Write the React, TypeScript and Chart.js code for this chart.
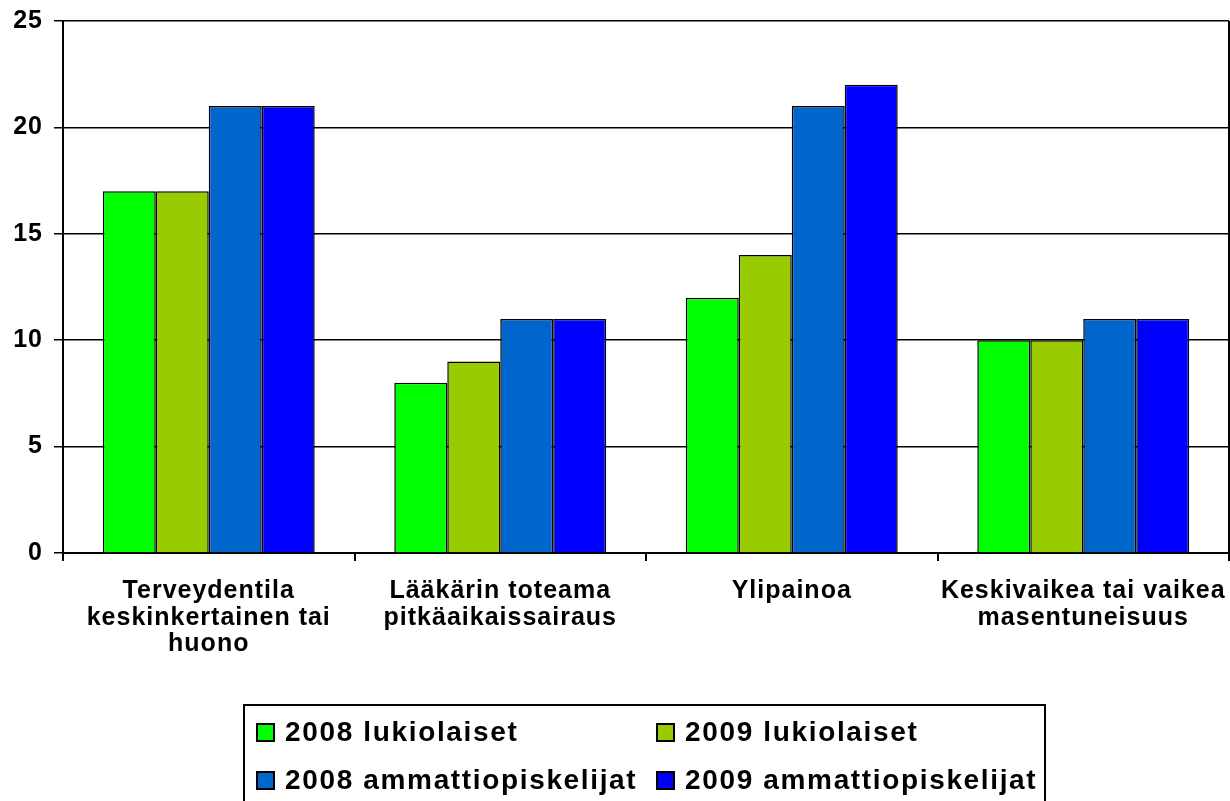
import React, { useEffect, useRef } from "react";
import { Chart, registerables } from "chart.js";

Chart.register(...registerables);

const categories: string[][] = [
  ["Terveydentila", "keskinkertainen tai", "huono"],
  ["Lääkärin toteama", "pitkäaikaissairaus"],
  ["Ylipainoa"],
  ["Keskivaikea tai vaikea", "masentuneisuus"],
];

const seriesNames: string[] = [
  "2008 lukiolaiset",
  "2009 lukiolaiset",
  "2008 ammattiopiskelijat",
  "2009 ammattiopiskelijat",
];

const lukio2008: number[] = [17, 8, 12, 10];
const lukio2009: number[] = [17, 9, 14, 10];
const ammatti2008: number[] = [21, 11, 21, 11];
const ammatti2009: number[] = [21, 11, 22, 11];

const seriesColors: string[] = ["#00FF00", "#99CC00", "#0066CC", "#0000FF"];

const yTicks: number[] = [0, 5, 10, 15, 20, 25];

const FONT = "'Liberation Sans', Arial, sans-serif";

const spacingPlugin = {
  id: "spacing",
  beforeLayout(chart: any) {
    chart.ctx.letterSpacing = "1px";
  },
  beforeDraw(chart: any) {
    chart.ctx.letterSpacing = "1px";
  },
};

const rightBorder = {
  id: "rightBorder",
  afterDraw(chart: any) {
    const { ctx, chartArea } = chart;
    ctx.save();
    ctx.strokeStyle = "#000";
    ctx.lineWidth = 2;
    ctx.beginPath();
    ctx.moveTo(chartArea.right, chartArea.top);
    ctx.lineTo(chartArea.right, chartArea.bottom);
    ctx.stroke();
    ctx.restore();
  },
};

export default function App() {
  const ref = useRef<HTMLCanvasElement | null>(null);

  useEffect(() => {
    if (!ref.current) return;
    const values = [lukio2008, lukio2009, ammatti2008, ammatti2009];
    const chart = new Chart(ref.current, {
      type: "bar",
      data: {
        labels: categories,
        datasets: values.map((v, i) => ({
          label: seriesNames[i],
          data: v,
          backgroundColor: seriesColors[i],
          borderColor: "#000",
          borderWidth: 1.5,
          categoryPercentage: 0.727,
          barPercentage: 1,
        })),
      },
      options: {
        animation: false,
        responsive: false,
        maintainAspectRatio: false,
        layout: { padding: { top: 21, right: 1, left: 0, bottom: 0 } },
        plugins: {
          legend: { display: false },
          tooltip: { enabled: false },
        },
        scales: {
          x: {
            afterFit(scale: any) {
              scale.height = 801 - 21 - 532;
              scale.paddingLeft = 0;
              scale.paddingRight = 0;
            },
            grid: {
              offset: true,
              drawOnChartArea: false,
              drawTicks: true,
              tickLength: 8,
              color: "#000",
              lineWidth: 2,
            },
            border: { display: true, color: "#000", width: 2 },
            ticks: {
              font: { family: FONT, size: 25, weight: "bold", lineHeight: 1.06 },
              color: "#000",
              maxRotation: 0,
              minRotation: 0,
              autoSkip: false,
              padding: 17,
            },
          },
          y: {
            min: 0,
            max: 25,
            afterFit(scale: any) {
              scale.width = 63;
              scale.paddingTop = 0;
              scale.paddingBottom = 0;
            },
            afterBuildTicks(scale: any) {
              scale.ticks = yTicks.map((v) => ({ value: v }));
            },
            grid: {
              color: "#000",
              lineWidth: 1.5,
              drawTicks: true,
              tickLength: 9,
            },
            border: { display: true, color: "#000", width: 2 },
            ticks: {
              font: { family: FONT, size: 25, weight: "bold" },
              color: "#000",
              padding: 11,
            },
          },
        },
      },
      plugins: [spacingPlugin, rightBorder],
    });
    return () => chart.destroy();
  }, []);

  const legendItem = (i: number) => (
    <div
      key={i}
      style={{
        display: "flex",
        alignItems: "center",
        height: 48,
        whiteSpace: "nowrap",
      }}
    >
      <span
        style={{
          display: "inline-block",
          width: 19,
          height: 19,
          background: seriesColors[i],
          border: "2px solid #000",
          marginRight: 10,
          boxSizing: "border-box",
          flex: "0 0 auto",
        }}
      />
      <span>{seriesNames[i]}</span>
    </div>
  );

  return (
    <div
      style={{
        position: "fixed",
        left: 0,
        top: 0,
        width: 1230,
        height: 801,
        overflow: "hidden",
        background: "#fff",
      }}
    >
      <canvas ref={ref} width={1230} height={801} style={{ display: "block" }} />
      <div
        style={{
          position: "absolute",
          left: 243,
          top: 704,
          width: 803,
          height: 160,
          border: "2px solid #000",
          boxSizing: "border-box",
          fontFamily: FONT,
          fontWeight: "bold",
          fontSize: 28,
          letterSpacing: 1.65,
          color: "#000",
          padding: "2px 0 0 11px",
          display: "grid",
          gridTemplateColumns: "400px 388px",
          gridAutoRows: "48px",
          lineHeight: 1,
        }}
      >
        {legendItem(0)}
        {legendItem(1)}
        {legendItem(2)}
        {legendItem(3)}
      </div>
    </div>
  );
}
